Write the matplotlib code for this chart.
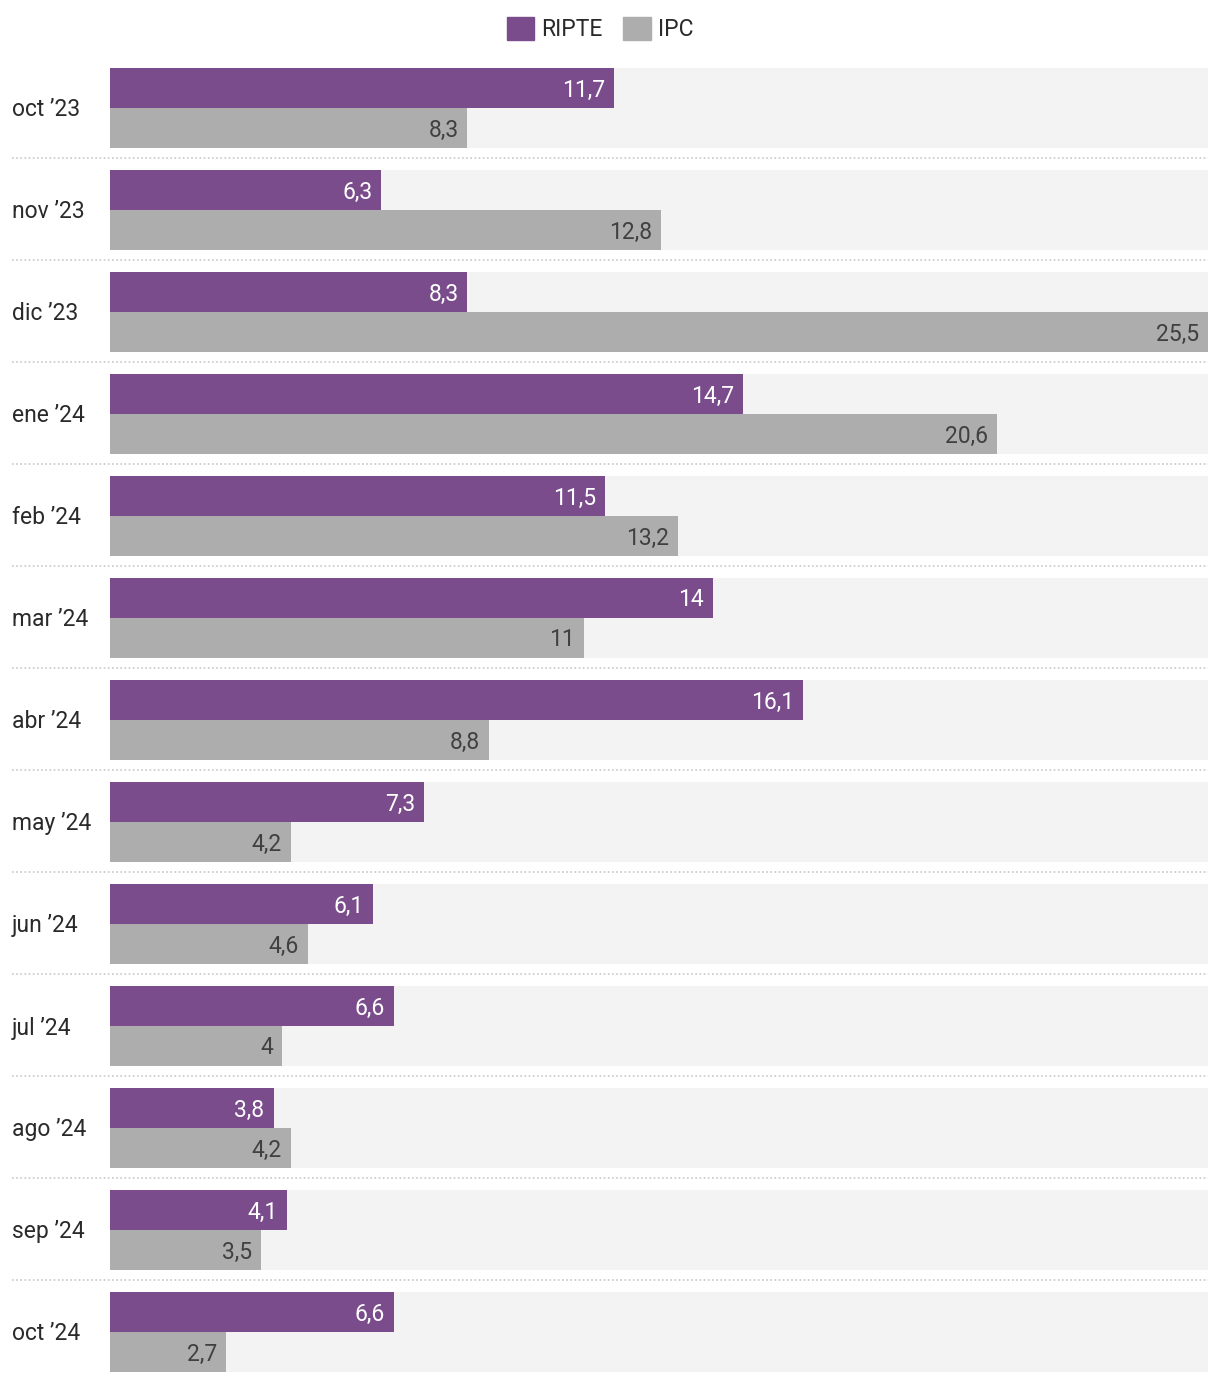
import matplotlib
matplotlib.use("Agg")
import matplotlib.pyplot as plt
from matplotlib.patches import Patch

months = ["oct ’23", "nov ’23", "dic ’23", "ene ’24", "feb ’24", "mar ’24", "abr ’24",
          "may ’24", "jun ’24", "jul ’24", "ago ’24", "sep ’24", "oct ’24"]
ripte = [11.7, 6.3, 8.3, 14.7, 11.5, 14, 16.1, 7.3, 6.1, 6.6, 3.8, 4.1, 6.6]
ipc = [8.3, 12.8, 25.5, 20.6, 13.2, 11, 8.8, 4.2, 4.6, 4, 4.2, 3.5, 2.7]

PURPLE = "#7a4c8c"
GRAY = "#adadad"
BG = "#f3f3f3"

plt.rcParams["font.family"] = ["Roboto", "DejaVu Sans"]

W, H = 1220, 1384
fig = plt.figure(figsize=(W / 100, H / 100), dpi=100)
ax = fig.add_axes([110 / W, (H - 1372) / H, (1208 - 110) / W, (1372 - 68) / H])

xmax = max(ipc + ripte)
bar_h = 40 / 102
n = len(months)
fs = 16.5
dy = 2 / 102

def fmt(v):
    s = ("%.1f" % v).rstrip("0").rstrip(".")
    return s.replace(".", ",")

for i in range(n):
    ax.barh(i + bar_h, xmax, height=2 * bar_h, align="center", color=BG, zorder=1)
    ax.barh(i + bar_h / 2, ripte[i], height=bar_h, color=PURPLE, zorder=2)
    ax.barh(i + 1.5 * bar_h, ipc[i], height=bar_h, color=GRAY, zorder=2)
    off = 9 / 43.06
    ax.text(ripte[i] - off, i + bar_h / 2 + dy, fmt(ripte[i]), ha="right", va="center",
            color="white", fontsize=fs, zorder=3)
    ax.text(ipc[i] - off, i + 1.5 * bar_h + dy, fmt(ipc[i]), ha="right", va="center",
            color="#404040", fontsize=fs, zorder=3)
    ax.text(-98 / 43.06, i + bar_h + dy, months[i], ha="left", va="center",
            color="#2a2a2a", fontsize=fs)
    if i < n - 1:
        ax.plot([-98 / 43.06, xmax], [i + 90 / 102] * 2, color="#c8c8c8",
                linestyle=(0, (1, 1.5)), linewidth=1.2, clip_on=False)

ax.set_xlim(0, xmax)
ax.set_ylim(n - 1 + 2 * bar_h, 0)
ax.axis("off")

handles = [Patch(color=PURPLE, label="RIPTE"), Patch(color=GRAY, label="IPC")]
fig.legend(handles=handles, loc="center", bbox_to_anchor=(600 / W, 1 - 29 / H), ncol=2,
           frameon=False, fontsize=fs, handlelength=1.2, handleheight=1.2,
           handletextpad=0.3, columnspacing=0.9, labelcolor="#2a2a2a")

fig.savefig("out.png", dpi=100, facecolor="white")
